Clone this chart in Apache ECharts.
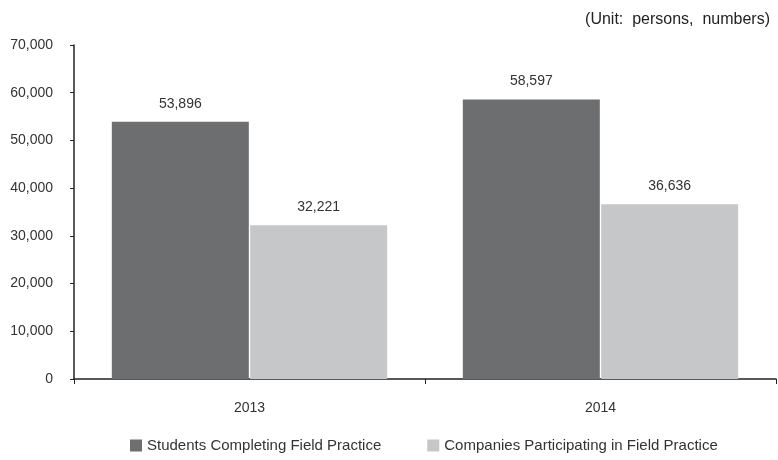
<!DOCTYPE html>
<html>
<head>
<meta charset="utf-8">
<script src="https://cdn.jsdelivr.net/npm/echarts@6/dist/echarts.min.js"></script>
<style>
html,body{margin:0;padding:0;background:#fff;}
#chart{width:778px;height:460px;}
</style>
</head>
<body>
<div id="chart"></div>
<script>
var years = ['2013', '2014'];
var students = [53896, 58597];
var companies = [32221, 36636];
var seriesNames = ['Students Completing Field Practice', 'Companies Participating in Field Practice'];

var font = 'Liberation Sans, Arial, sans-serif';

function fmt(v){
    return v.toLocaleString('en-US');
}

var option = {
    animation: false,
    textStyle: {fontFamily: font},
    title: {
        text: '(Unit:  persons,  numbers)',
        right: 3,
        top: 7,
        textStyle: {fontSize: 16, fontWeight: 'normal', color: '#222', fontFamily: font}
    },
    legend: {
        bottom: 2,
        left: 125,
        itemWidth: 12,
        itemHeight: 12,
        itemGap: 46,
        icon: 'rect',
        textStyle: {fontSize: 15, color: '#333', fontFamily: font},
        data: seriesNames
    },
    grid: {
        left: 74,
        right: 2,
        top: 45,
        bottom: 81,
        containLabel: false
    },
    xAxis: {
        type: 'category',
        data: years,
        axisLine: {lineStyle: {color: '#222', width: 1.5}},
        axisTick: {show: true, length: 5, alignWithLabel: false, lineStyle: {color: '#222'}},
        axisLabel: {fontSize: 14, color: '#333', margin: 22}
    },
    yAxis: {
        type: 'value',
        min: 0,
        max: 70000,
        interval: 10000,
        axisLine: {show: true, lineStyle: {color: '#222', width: 1.5}},
        axisTick: {show: true, length: 4, lineStyle: {color: '#222'}},
        splitLine: {show: false},
        axisLabel: {fontSize: 14, color: '#333', margin: 21, formatter: function(v){ return fmt(v); }}
    },
    series: [
        {
            name: seriesNames[0],
            type: 'bar',
            data: students,
            barWidth: 137,
            barGap: '1%',
            itemStyle: {color: '#6d6e70'},
            label: {show: true, position: 'top', distance: 11, fontSize: 14, color: '#333', formatter: function(p){ return fmt(p.value); }}
        },
        {
            name: seriesNames[1],
            type: 'bar',
            data: companies,
            barWidth: 137,
            itemStyle: {color: '#c6c7c8'},
            label: {show: true, position: 'top', distance: 11, fontSize: 14, color: '#333', formatter: function(p){ return fmt(p.value); }}
        }
    ]
};

echarts.init(document.getElementById('chart')).setOption(option);
</script>
</body>
</html>
